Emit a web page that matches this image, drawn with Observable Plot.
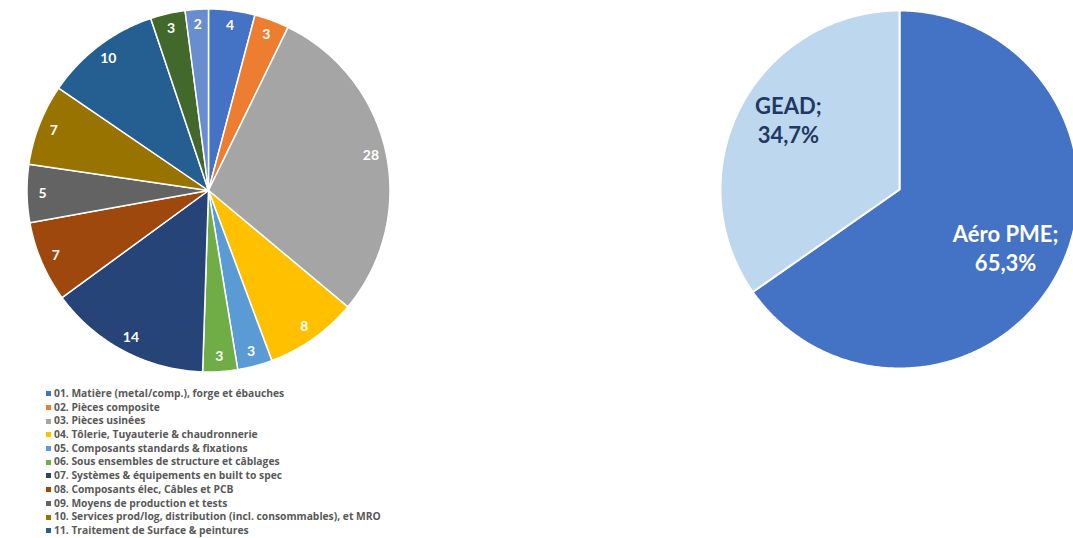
<!DOCTYPE html>
<html>
<head>
<meta charset="utf-8">
<script src="https://cdn.jsdelivr.net/npm/d3@7"></script>
<script src="https://cdn.jsdelivr.net/npm/@observablehq/plot@0.6"></script>
<style>
  html, body { margin: 0; padding: 0; background: #fff; overflow: hidden; }
  #wrap { position: relative; width: 1073px; height: 538px; overflow: hidden; }
  #left { position: absolute; left: 17.5px; top: 0; width: 380px; height: 380px; }
  #right { position: absolute; left: 709px; top: -1px; width: 380px; height: 380px; }
  #wrap svg { max-width: none !important; }
  #legend { position: absolute; left: 46px; top: 387px; font-family: "Open Sans", sans-serif; font-weight: 700;
            font-size: 10.3px; color: #595959; }
  #legend .row { height: 13.7px; line-height: 13.7px; display: flex; align-items: center; white-space: nowrap; }
  #legend .sw { width: 5px; height: 5px; margin-right: 3px; flex: none; }
  svg text { font-family: Lato, sans-serif; }
</style>
</head>
<body>
<div id="wrap">
  <div id="left"></div>
  <div id="legend"></div>
  <div id="right"></div>
</div>
<script>
// ---- data: left pie (categories, values) ----
const categories = [
  "01. Matière (metal/comp.), forge et ébauches",
  "02. Pièces composite",
  "03. Pièces usinées",
  "04. Tôlerie, Tuyauterie & chaudronnerie",
  "05. Composants standards & fixations",
  "06. Sous ensembles de structure et câblages",
  "07. Systèmes & équipements en built to spec",
  "08. Composants élec, Câbles et PCB",
  "09. Moyens de production et tests",
  "10. Services prod/log, distribution (incl. consommables), et MRO",
  "11. Traitement de Surface & peintures",
  "12.",
  "13."
];
const values = [4, 3, 28, 8, 3, 3, 14, 7, 5, 7, 10, 3, 2];
const legendShown = 11;
const colors = ["#4472C4", "#ED7D31", "#A5A5A5", "#FFC000", "#5B9BD5", "#70AD47",
                "#264478", "#9E480E", "#636363", "#997300", "#255E91", "#43682B", "#698ED0"];

// ---- data: right pie ----
const groups = ["Aéro PME", "GEAD"];
const shares = [65.3, 34.7];
const shareLabels = ["65,3%", "34,7%"];
const groupColors = ["#4472C4", "#BDD7EE"];
const groupTextColors = ["#FFFFFF", "#1F3864"];

// build polygon points from d3.pie angles
function slicePoints(names, vals) {
  const arcs = d3.pie().sort(null).value(d => d.v)(names.map((n, i) => ({n, v: vals[i]})));
  const pts = [];
  arcs.forEach(a => {
    const cat = a.data.n;
    pts.push({cat, x: 0, y: 0});
    const steps = Math.max(2, Math.ceil((a.endAngle - a.startAngle) / (Math.PI / 360)));
    for (let k = 0; k <= steps; k++) {
      const t = a.startAngle + (a.endAngle - a.startAngle) * k / steps;
      pts.push({cat, x: Math.sin(t), y: Math.cos(t)});
    }
    pts.push({cat, x: 0, y: 0});
  });
  return {arcs, pts};
}

// ---- left pie ----
{
  const {arcs, pts} = slicePoints(categories, values);
  const lr = 0.915;
  const labels = arcs.map(a => {
    const m = (a.startAngle + a.endAngle) / 2;
    return {x: Math.sin(m) * lr, y: Math.cos(m) * lr, t: String(a.data.v)};
  });
  const D = 190 / 181.5;
  const chart = Plot.plot({
    width: 380, height: 380, margin: 0,
    x: {domain: [-D, D], axis: null},
    y: {domain: [-D, D], axis: null},
    color: {domain: categories, range: colors},
    marks: [
      Plot.line(pts, {x: "x", y: "y", z: "cat", fill: "cat", stroke: "white", strokeWidth: 1.5, strokeLinejoin: "round"}),
      Plot.text(labels, {x: "x", y: "y", text: "t", fill: "white", fontSize: 14, fontWeight: 700})
    ]
  });
  document.getElementById("left").appendChild(chart);

  const lg = document.getElementById("legend");
  categories.slice(0, legendShown).forEach((c, i) => {
    const row = document.createElement("div");
    row.className = "row";
    const sw = document.createElement("span");
    sw.className = "sw";
    sw.style.background = colors[i];
    const tx = document.createElement("span");
    tx.textContent = c;
    row.appendChild(sw); row.appendChild(tx);
    lg.appendChild(row);
  });
}

// ---- right pie ----
{
  const {arcs, pts} = slicePoints(groups, shares);
  const lr = 0.7;
  const nudge = [[-5, 0], [0, -12]];
  const labels = arcs.map((a, i) => {
    const m = (a.startAngle + a.endAngle) / 2;
    return {x: Math.sin(m) * lr, y: Math.cos(m) * lr, t: groups[i] + ";\n" + shareLabels[i], c: groupTextColors[i]};
  });
  const D = 190 / 179;
  const chart = Plot.plot({
    width: 380, height: 380, margin: 0,
    x: {domain: [-D, D], axis: null},
    y: {domain: [-D, D], axis: null},
    color: {domain: groups, range: groupColors},
    marks: [
      Plot.line(pts, {x: "x", y: "y", z: "cat", fill: "cat", stroke: "white", strokeWidth: 2, strokeLinejoin: "round"}),
      ...labels.map((l, i) => Plot.text([l], {x: "x", y: "y", text: "t", fill: l.c, fontSize: 22, fontWeight: 700,
                                              lineHeight: 1.3, dx: nudge[i][0], dy: nudge[i][1]}))
    ]
  });
  document.getElementById("right").appendChild(chart);
}
</script>
</body>
</html>
